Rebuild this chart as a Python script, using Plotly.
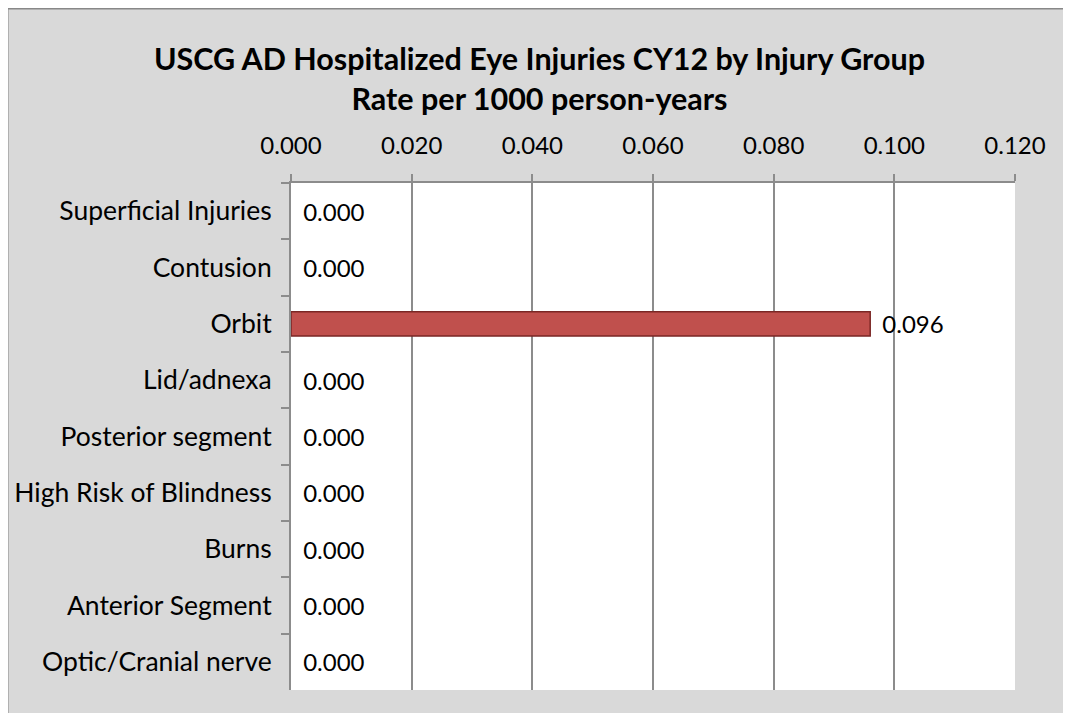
import plotly.graph_objects as go

categories = ["Superficial Injuries", "Contusion", "Orbit", "Lid/adnexa", "Posterior segment",
              "High Risk of Blindness", "Burns", "Anterior Segment", "Optic/Cranial nerve"]
rates = [0.000, 0.000, 0.096, 0.000, 0.000, 0.000, 0.000, 0.000, 0.000]
x_ticks = [0.0, 0.02, 0.04, 0.06, 0.08, 0.10, 0.12]

FONT = "Lato"
W, H = 1063, 705
L, R, T, B = 283, 56, 175, 23

fig = go.Figure(go.Bar(
    y=categories, x=rates, orientation="h",
    marker=dict(color="#c0504d",
                line=dict(color="#7a2624", width=[1.5 if v > 0 else 0 for v in rates])),
    width=0.43,
    texttemplate="\u00a0\u2009%{x:.3f}", textposition="outside",
    constraintext="none",
    textfont=dict(family=FONT, size=24, color="#000"),
    cliponaxis=False,
))

pw = W - L - R
ph = H - T - B
fig.update_layout(
    width=W, height=H,
    margin=dict(l=L, r=R, t=T, b=B, autoexpand=False),
    paper_bgcolor="#d9d9d9",
    plot_bgcolor="#ffffff",
    showlegend=False,
    font=dict(family=FONT, size=24, color="#000"),
    title=dict(text="<b>USCG AD Hospitalized Eye Injuries CY12 by Injury Group<br>Rate per 1000 person-years</b>",
               x=0.5, xanchor="center", y=1 - 62 / H, yanchor="top",
               font=dict(family=FONT, size=30.5, color="#000")),
    xaxis=dict(side="top", range=[0, 0.12], tickvals=x_ticks, tickformat=".3f",
               showgrid=True, gridcolor="#8c8c8c", gridwidth=2,
               ticks="outside", ticklen=7, tickcolor="#8c8c8c", tickwidth=2,
               showline=True, linecolor="#8c8c8c", linewidth=2, automargin=False,
               zeroline=False, ticklabelstandoff=10, tickfont=dict(size=24)),
    yaxis=dict(autorange="reversed", tickson="boundaries", ticks="outside", ticklen=8,
               tickcolor="#8c8c8c", tickwidth=2, showline=True, linecolor="#8c8c8c", linewidth=2,
               showgrid=False, ticklabelstandoff=12, tickfont=dict(size=26.5), automargin=False),
    shapes=[dict(type="rect", xref="paper", yref="paper",
                 x0=(-1 - L) / pw, x1=(W + 20 - L) / pw,
                 y0=-(B + 20) / ph, y1=1 + (T + 0) / ph,
                 line=dict(color="#888888", width=3), fillcolor="rgba(0,0,0,0)", layer="below")],
)

fig.write_html("out.html")
